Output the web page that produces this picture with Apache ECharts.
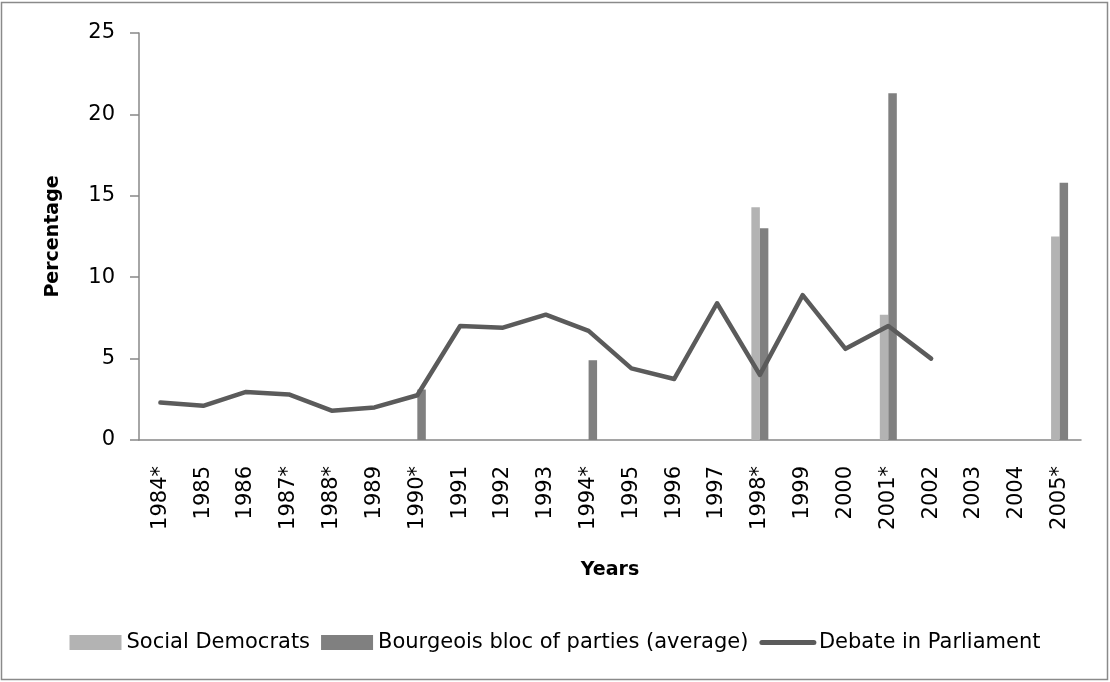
<!DOCTYPE html>
<html>
<head>
<meta charset="utf-8">
<title>Percentage by year</title>
<script src="https://cdn.jsdelivr.net/npm/echarts@6/dist/echarts.min.js"></script>
<style>
    html, body { margin: 0; padding: 0; background: #fff; }
    #chart { width: 1110px; height: 682px; }
</style>
</head>
<body>
<div id="chart"></div>
<script>
// values
var years = ['1984*', '1985', '1986', '1987*', '1988*', '1989', '1990*', '1991', '1992', '1993', '1994*',
    '1995', '1996', '1997', '1998*', '1999', '2000', '2001*', '2002', '2003', '2004', '2005*'];

var socialDemocrats = [null, null, null, null, null, null, null, null, null, null, null,
    null, null, null, 14.3, null, null, 7.7, null, null, null, 12.5];

var bourgeoisBloc = [null, null, null, null, null, null, 3.1, null, null, null, 4.9,
    null, null, null, 13.0, null, null, 21.3, null, null, null, 15.8];

var debate = [2.3, 2.1, 2.95, 2.8, 1.8, 2.0, 2.75, 7.0, 6.9, 7.7, 6.7,
    4.4, 3.75, 8.4, 4.0, 8.9, 5.6, 7.0, 5.0, null, null, null];

var yTicks = [0, 25, 5]; // min, max, interval

var font = 'DejaVu Sans';

var chart = echarts.init(document.getElementById('chart'));

chart.setOption({
    animation: false,
    backgroundColor: '#fff',
    textStyle: { fontFamily: font },
    graphic: [{
        type: 'rect',
        silent: true,
        shape: { x: 1.5, y: 2.5, width: 1106, height: 677 },
        style: { fill: 'none', stroke: '#8a8a8a', lineWidth: 1.5 }
    }],
    grid: { left: 139, right: 29, top: 33, bottom: 242 },
    legend: {
        bottom: 24,
        left: 'center',
        itemGap: 11,
        itemWidth: 52,
        itemHeight: 15,
        textStyle: { fontFamily: font, fontSize: 21, color: '#000' },
        data: [
            { name: 'Social Democrats', icon: 'rect' },
            { name: 'Bourgeois bloc of parties (average)', icon: 'rect' },
            {
                name: 'Debate in Parliament',
                itemStyle: { opacity: 0 },
                lineStyle: { width: 5, color: '#5b5b5b', cap: 'round' }
            }
        ]
    },
    xAxis: {
        type: 'category',
        data: years,
        name: 'Years',
        nameLocation: 'middle',
        nameGap: 121,
        nameTextStyle: { fontFamily: font, fontSize: 19, fontWeight: 'bold', color: '#000' },
        axisLine: { lineStyle: { color: '#888', width: 1.5 } },
        axisTick: { show: false },
        axisLabel: { rotate: 90, interval: 0, margin: 26, fontSize: 21, color: '#000', fontFamily: font },
        splitLine: { show: false }
    },
    yAxis: {
        type: 'value',
        min: yTicks[0],
        max: yTicks[1],
        interval: yTicks[2],
        name: 'Percentage',
        nameLocation: 'middle',
        nameGap: 76,
        nameTextStyle: { fontFamily: font, fontSize: 19, fontWeight: 'bold', color: '#000' },
        axisLine: { show: true, lineStyle: { color: '#888', width: 1.5 } },
        axisTick: { show: true, inside: false, length: 9, lineStyle: { color: '#888', width: 1.5 } },
        axisLabel: { margin: 24, fontSize: 21, color: '#000', fontFamily: font },
        splitLine: { show: false }
    },
    series: [
        {
            name: 'Social Democrats',
            type: 'bar',
            data: socialDemocrats,
            barWidth: 8.5,
            barGap: '0%',
            itemStyle: { color: '#b3b3b3' }
        },
        {
            name: 'Bourgeois bloc of parties (average)',
            type: 'bar',
            data: bourgeoisBloc,
            barWidth: 8.5,
            barGap: '0%',
            itemStyle: { color: '#808080' }
        },
        {
            name: 'Debate in Parliament',
            type: 'line',
            data: debate,
            symbol: 'none',
            showSymbol: false,
            connectNulls: false,
            itemStyle: { color: '#5b5b5b' },
            lineStyle: { color: '#5b5b5b', width: 4.5, cap: 'round', join: 'round' }
        }
    ]
});
</script>
</body>
</html>
